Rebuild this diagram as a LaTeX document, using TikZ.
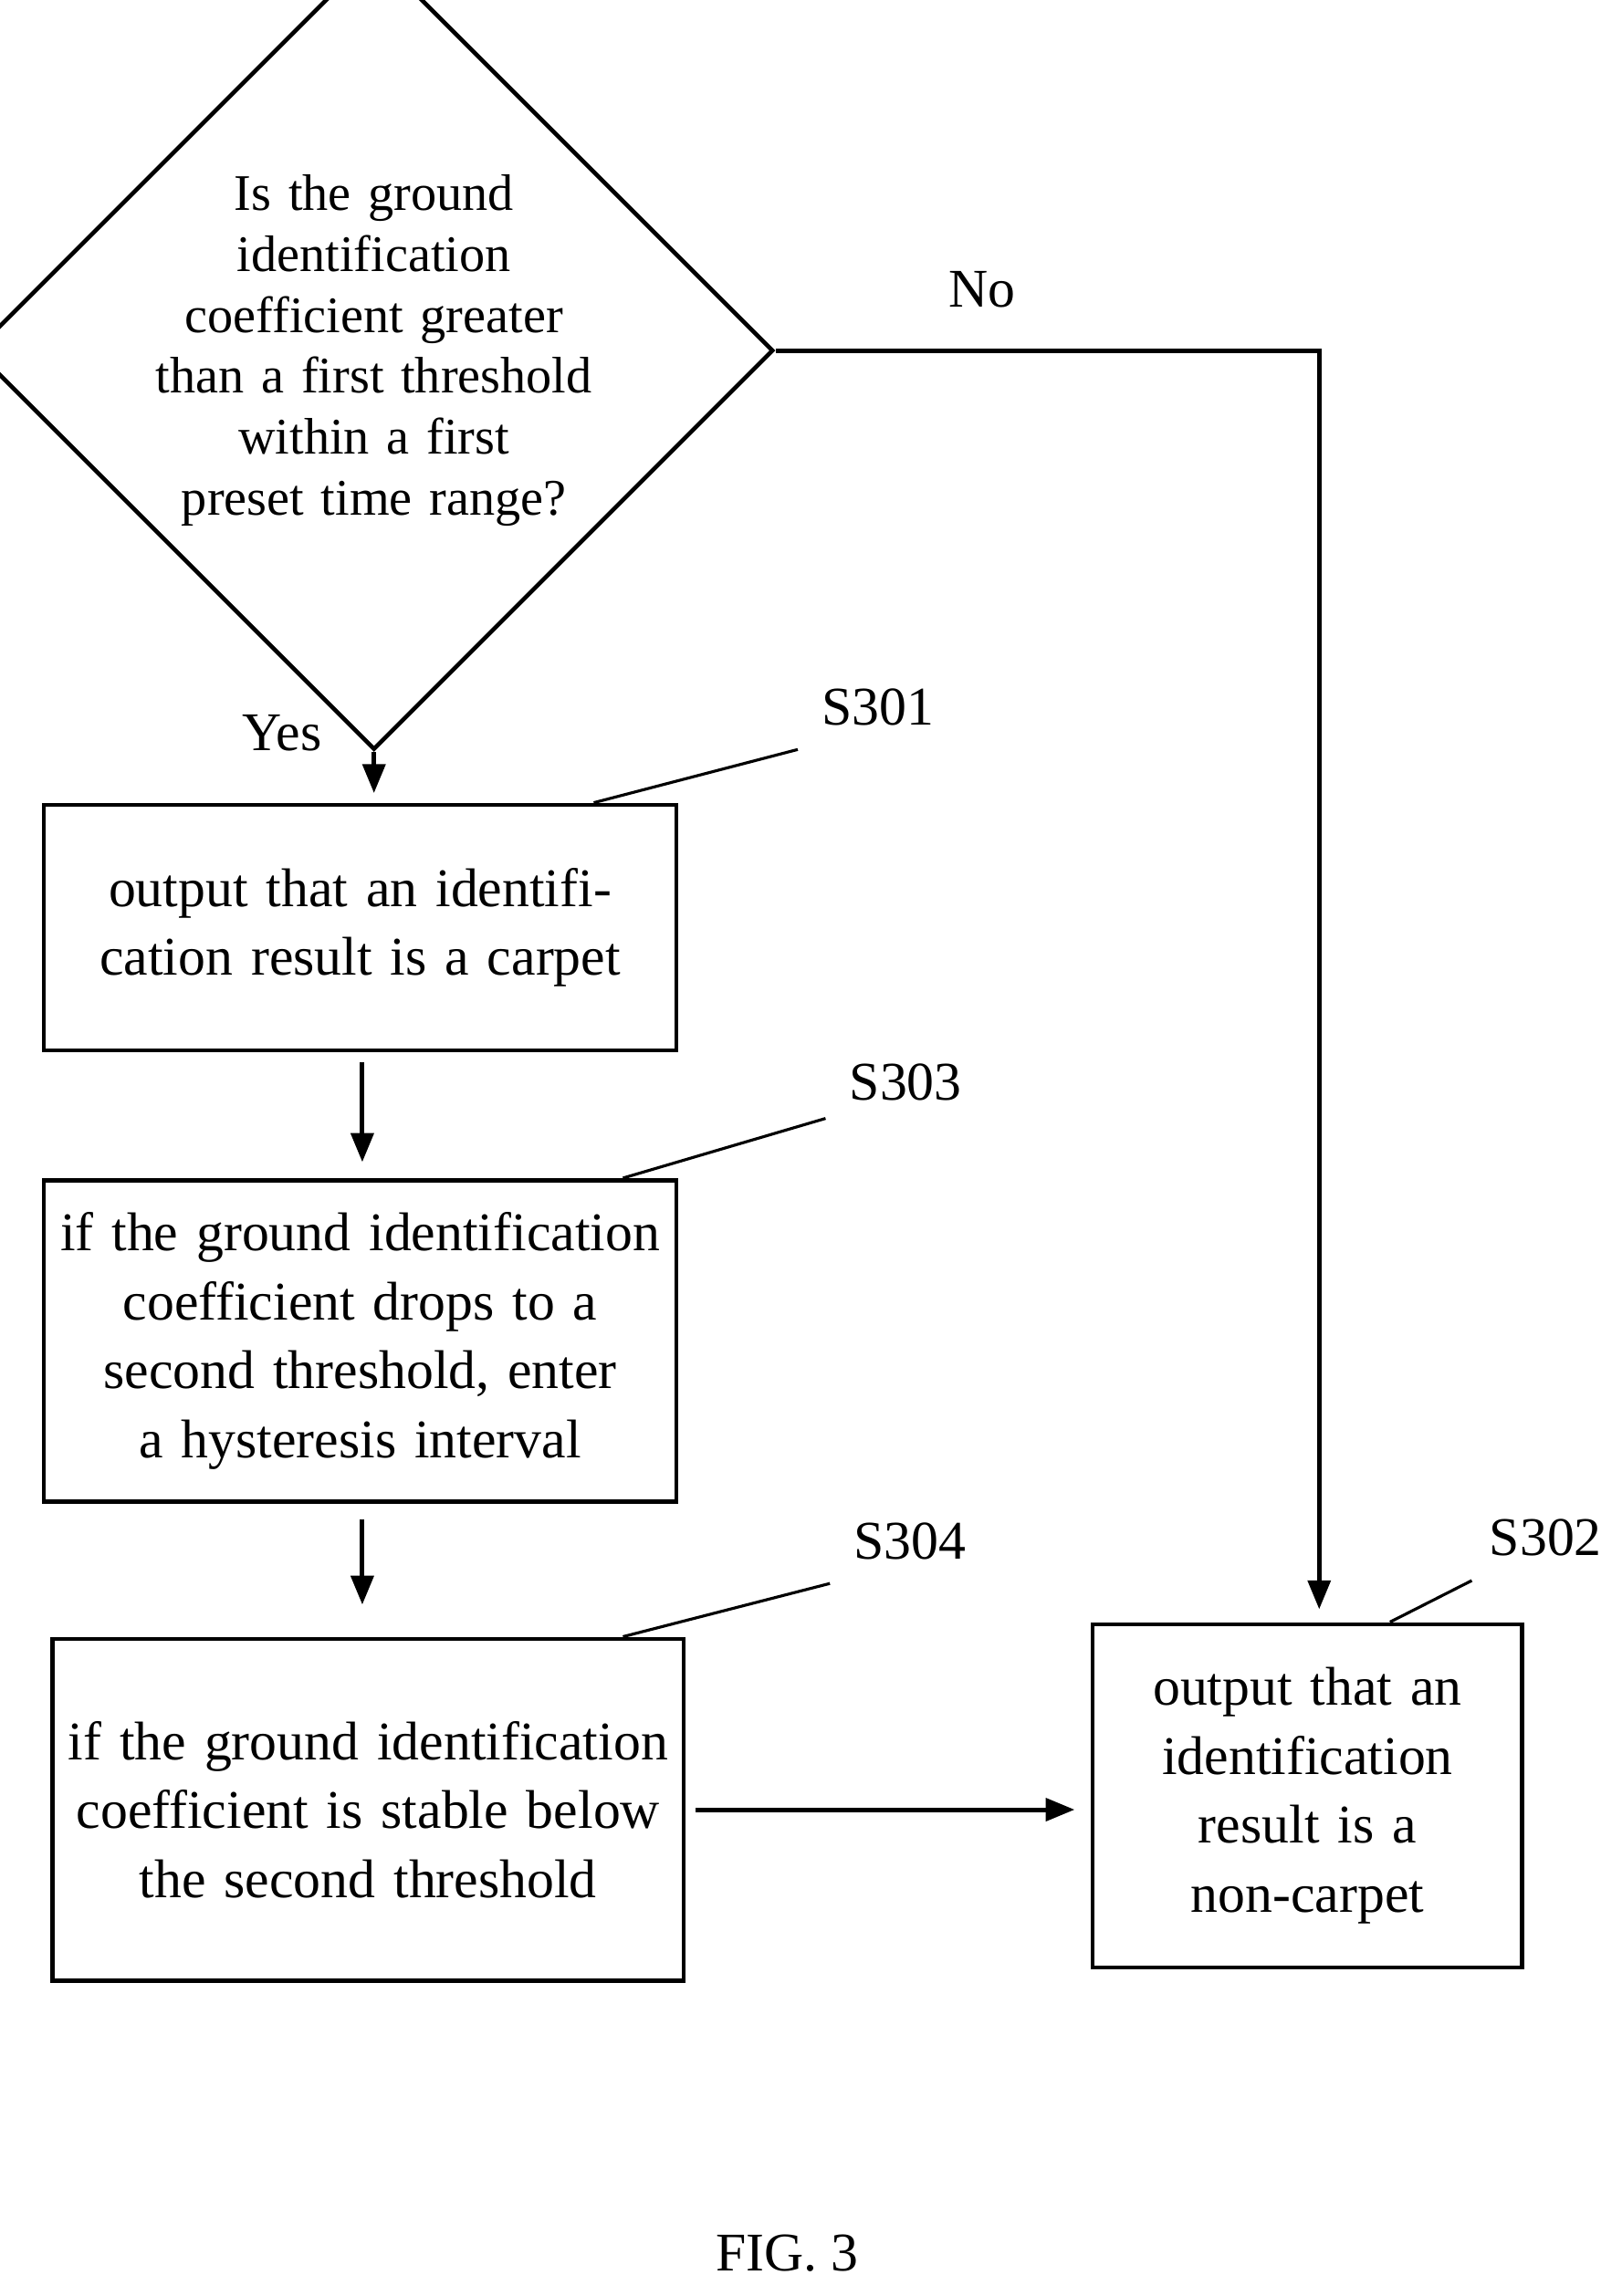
\documentclass[tikz,border=0pt]{standalone}
\usepackage{fontspec}
\setmainfont{Liberation Serif}
\usetikzlibrary{shapes.geometric,arrows.meta,positioning}

\tikzset{
    stepbox/.style={draw,line width=1.3pt,align=center,font=\fontsize{17}{21.5}\selectfont,inner sep=0pt},
    flow/.style={line width=1.4pt,-{Triangle[length=9pt,width=7pt]}},
    lead/.style={line width=0.9pt},
    tag/.style={font=\fontsize{17}{20}\selectfont}
}

\begin{document}
\begin{tikzpicture}[x=0.016cm,y=-0.016cm]
    \useasboundingbox (0,0) rectangle (1110,1572);

    % decision
    \node[diamond,draw,line width=1.3pt,minimum width=483*0.016cm,minimum height=451*0.016cm,
          inner sep=0pt,text width=4.9cm,align=center,font=\fontsize{16}{19}\selectfont]
          (check) at (256,240) {Is the ground identification coefficient greater than a first threshold within a first preset time range?};

    % steps
    \node[stepbox,minimum width=433*0.016cm,minimum height=168*0.016cm,text width=6.2cm] (carpet) at (246.5,635) {output that an identification result is a carpet};
    \node[stepbox,minimum width=433*0.016cm,minimum height=220*0.016cm,text width=6.6cm] (drop) at (246.5,918) {if the ground identification coefficient drops to a second threshold, enter a hysteresis interval};
    \node[stepbox,minimum width=432*0.016cm,minimum height=234*0.016cm,text width=6.6cm] (stable) at (252,1239) {if the ground identification coefficient is stable below the second threshold};
    \node[stepbox,minimum width=294*0.016cm,minimum height=235*0.016cm,text width=4.0cm] (noncarpet) at (895,1229.5) {output that an identification result is a non-carpet};

    % labels
    \node[tag] (yes) at (193,502) {Yes};
    \node[tag] (no) at (672,198) {No};
    \node[tag] (s301) at (601,484) {S301};
    \node[tag] (s303) at (620,741) {S303};
    \node[tag] (s304) at (623,1055) {S304};
    \node[tag] (s302) at (1058,1053) {S302};
    \node[font=\fontsize{17}{20}\selectfont] (fig) at (539,1543) {FIG. 3};

    % connectors
    \draw[flow,shorten >=3pt] (check.south) -- (check.south |- carpet.north);
    \draw[flow,shorten <=3pt,shorten >=5pt] ([xshift=1.5*0.016cm]carpet.south) -- ([xshift=1.5*0.016cm]carpet.south |- drop.north);
    \draw[flow,shorten <=5pt,shorten >=10pt] ([xshift=1.5*0.016cm]drop.south) -- ([xshift=1.5*0.016cm]drop.south |- stable.north);
    \draw[flow,shorten <=3pt,shorten >=5pt] (stable.east) -- (stable.east -| noncarpet.west);
    \draw[flow,shorten >=4pt] (check.east) -| ([xshift=8*0.016cm]noncarpet.north);

    % leader lines
    \draw[lead] ([xshift=-58*0.016cm]carpet.north east) -- ([xshift=-4pt,yshift=-4pt]s301.south west);
    \draw[lead] ([xshift=-38*0.016cm]drop.north east) -- ([xshift=-4pt,yshift=-2pt]s303.south west);
    \draw[lead] ([xshift=-43*0.016cm]stable.north east) -- ([xshift=-4pt,yshift=-4pt]s304.south west);
    \draw[lead] ([xshift=-92*0.016cm]noncarpet.north east) -- ([xshift=-2pt,yshift=-4pt]s302.south west);
\end{tikzpicture}
\end{document}
